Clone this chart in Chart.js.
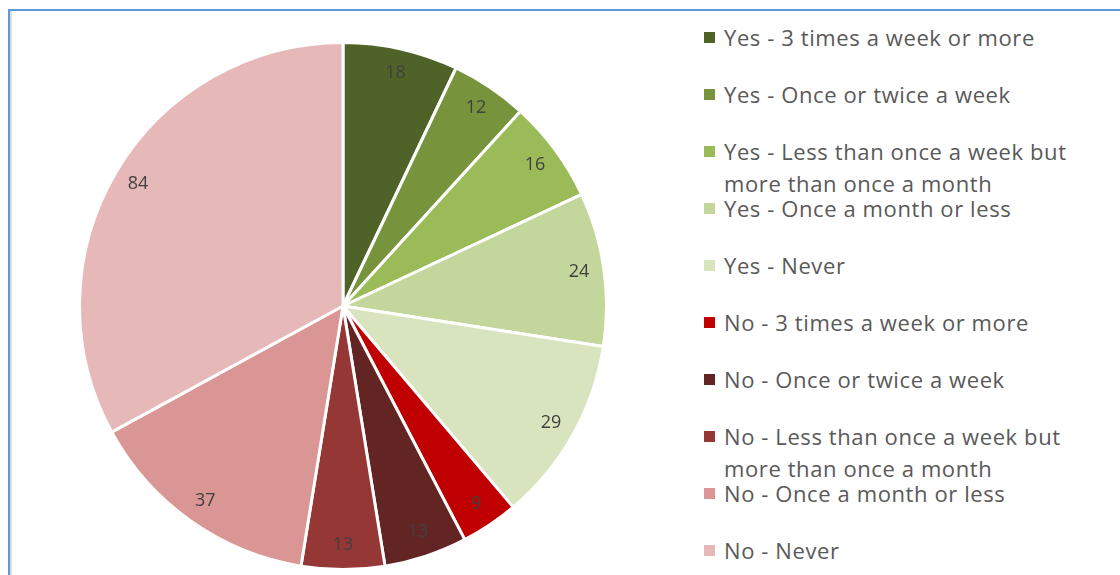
<!DOCTYPE html>
<html>
<head>
<meta charset="utf-8">
<script src="https://cdn.jsdelivr.net/npm/chart.js@4"></script>
<style>
  body { margin: 0; background: #fff; width: 1120px; height: 575px; overflow: hidden; position: relative; font-family: "Open Sans", Lato, sans-serif; }
  #frame { position: absolute; left: 8px; top: 9px; width: 1200px; height: 700px; border-top: 2px solid #5b9bd5; border-left: 2px solid #5b9bd5; box-shadow: inset 2px 0 0 #dcdcdc; }
  #pieBox { position: absolute; left: 77px; top: 41px; width: 532px; height: 530px; }
  #legend { position: absolute; left: 704px; top: 0; }
  .item { position: absolute; left: 0; white-space: nowrap; color: #595959; font-size: 22px; letter-spacing: 0.6px; line-height: 32px; }
  .item span.box { position: absolute; left: 0; top: 11px; width: 11px; height: 11px; }
  .item div { margin-left: 20px; }
</style>
</head>
<body>
<div id="frame"></div>
<div id="pieBox"><canvas id="pie"></canvas></div>
<div id="legend"></div>
<script>
var categories = [
  ['Yes - 3 times a week or more'],
  ['Yes - Once or twice a week'],
  ['Yes - Less than once a week but', 'more than once a month'],
  ['Yes - Once a month or less'],
  ['Yes - Never'],
  ['No - 3 times a week or more'],
  ['No - Once or twice a week'],
  ['No - Less than once a week but', 'more than once a month'],
  ['No - Once a month or less'],
  ['No - Never']
];
var counts = [18, 12, 16, 24, 29, 9, 13, 13, 37, 84];
var colors = ['#4f6228', '#77933c', '#9bbb59', '#c3d69b', '#d7e4bd',
              '#c00000', '#632523', '#953735', '#d99694', '#e6b9b8'];

// html legend, one slot per category
var legend = document.getElementById('legend');
categories.forEach(function(lines, i) {
  var item = document.createElement('div');
  item.className = 'item';
  item.style.top = (21 + i * 57) + 'px';
  var box = document.createElement('span');
  box.className = 'box';
  box.style.background = colors[i];
  item.appendChild(box);
  var txt = document.createElement('div');
  txt.innerHTML = lines.join('<br>');
  item.appendChild(txt);
  legend.appendChild(item);
});

// value labels inside the slices
var sliceLabels = {
  id: 'sliceLabels',
  afterDatasetsDraw: function(chart) {
    var ctx = chart.ctx;
    var meta = chart.getDatasetMeta(0);
    ctx.save();
    ctx.font = '18px "Open Sans", Lato, sans-serif';
    ctx.fillStyle = '#404040';
    ctx.textAlign = 'center';
    ctx.textBaseline = 'middle';
    meta.data.forEach(function(arc, i) {
      var p = arc.getProps(['x', 'y', 'startAngle', 'endAngle', 'outerRadius'], true);
      var mid = (p.startAngle + p.endAngle) / 2;
      var r = p.outerRadius * 0.905;
      ctx.fillText(String(counts[i]), p.x + Math.cos(mid) * r, p.y + Math.sin(mid) * r);
    });
    ctx.restore();
  }
};

new Chart(document.getElementById('pie'), {
  type: 'pie',
  data: {
    labels: categories.map(function(l) { return l.join(' '); }),
    datasets: [{
      data: counts,
      backgroundColor: colors,
      borderColor: '#ffffff',
      borderWidth: 3
    }]
  },
  options: {
    responsive: true,
    maintainAspectRatio: false,
    animation: false,
    layout: { padding: 0 },
    plugins: {
      legend: { display: false },
      tooltip: { enabled: false }
    }
  },
  plugins: [sliceLabels]
});
</script>
</body>
</html>
